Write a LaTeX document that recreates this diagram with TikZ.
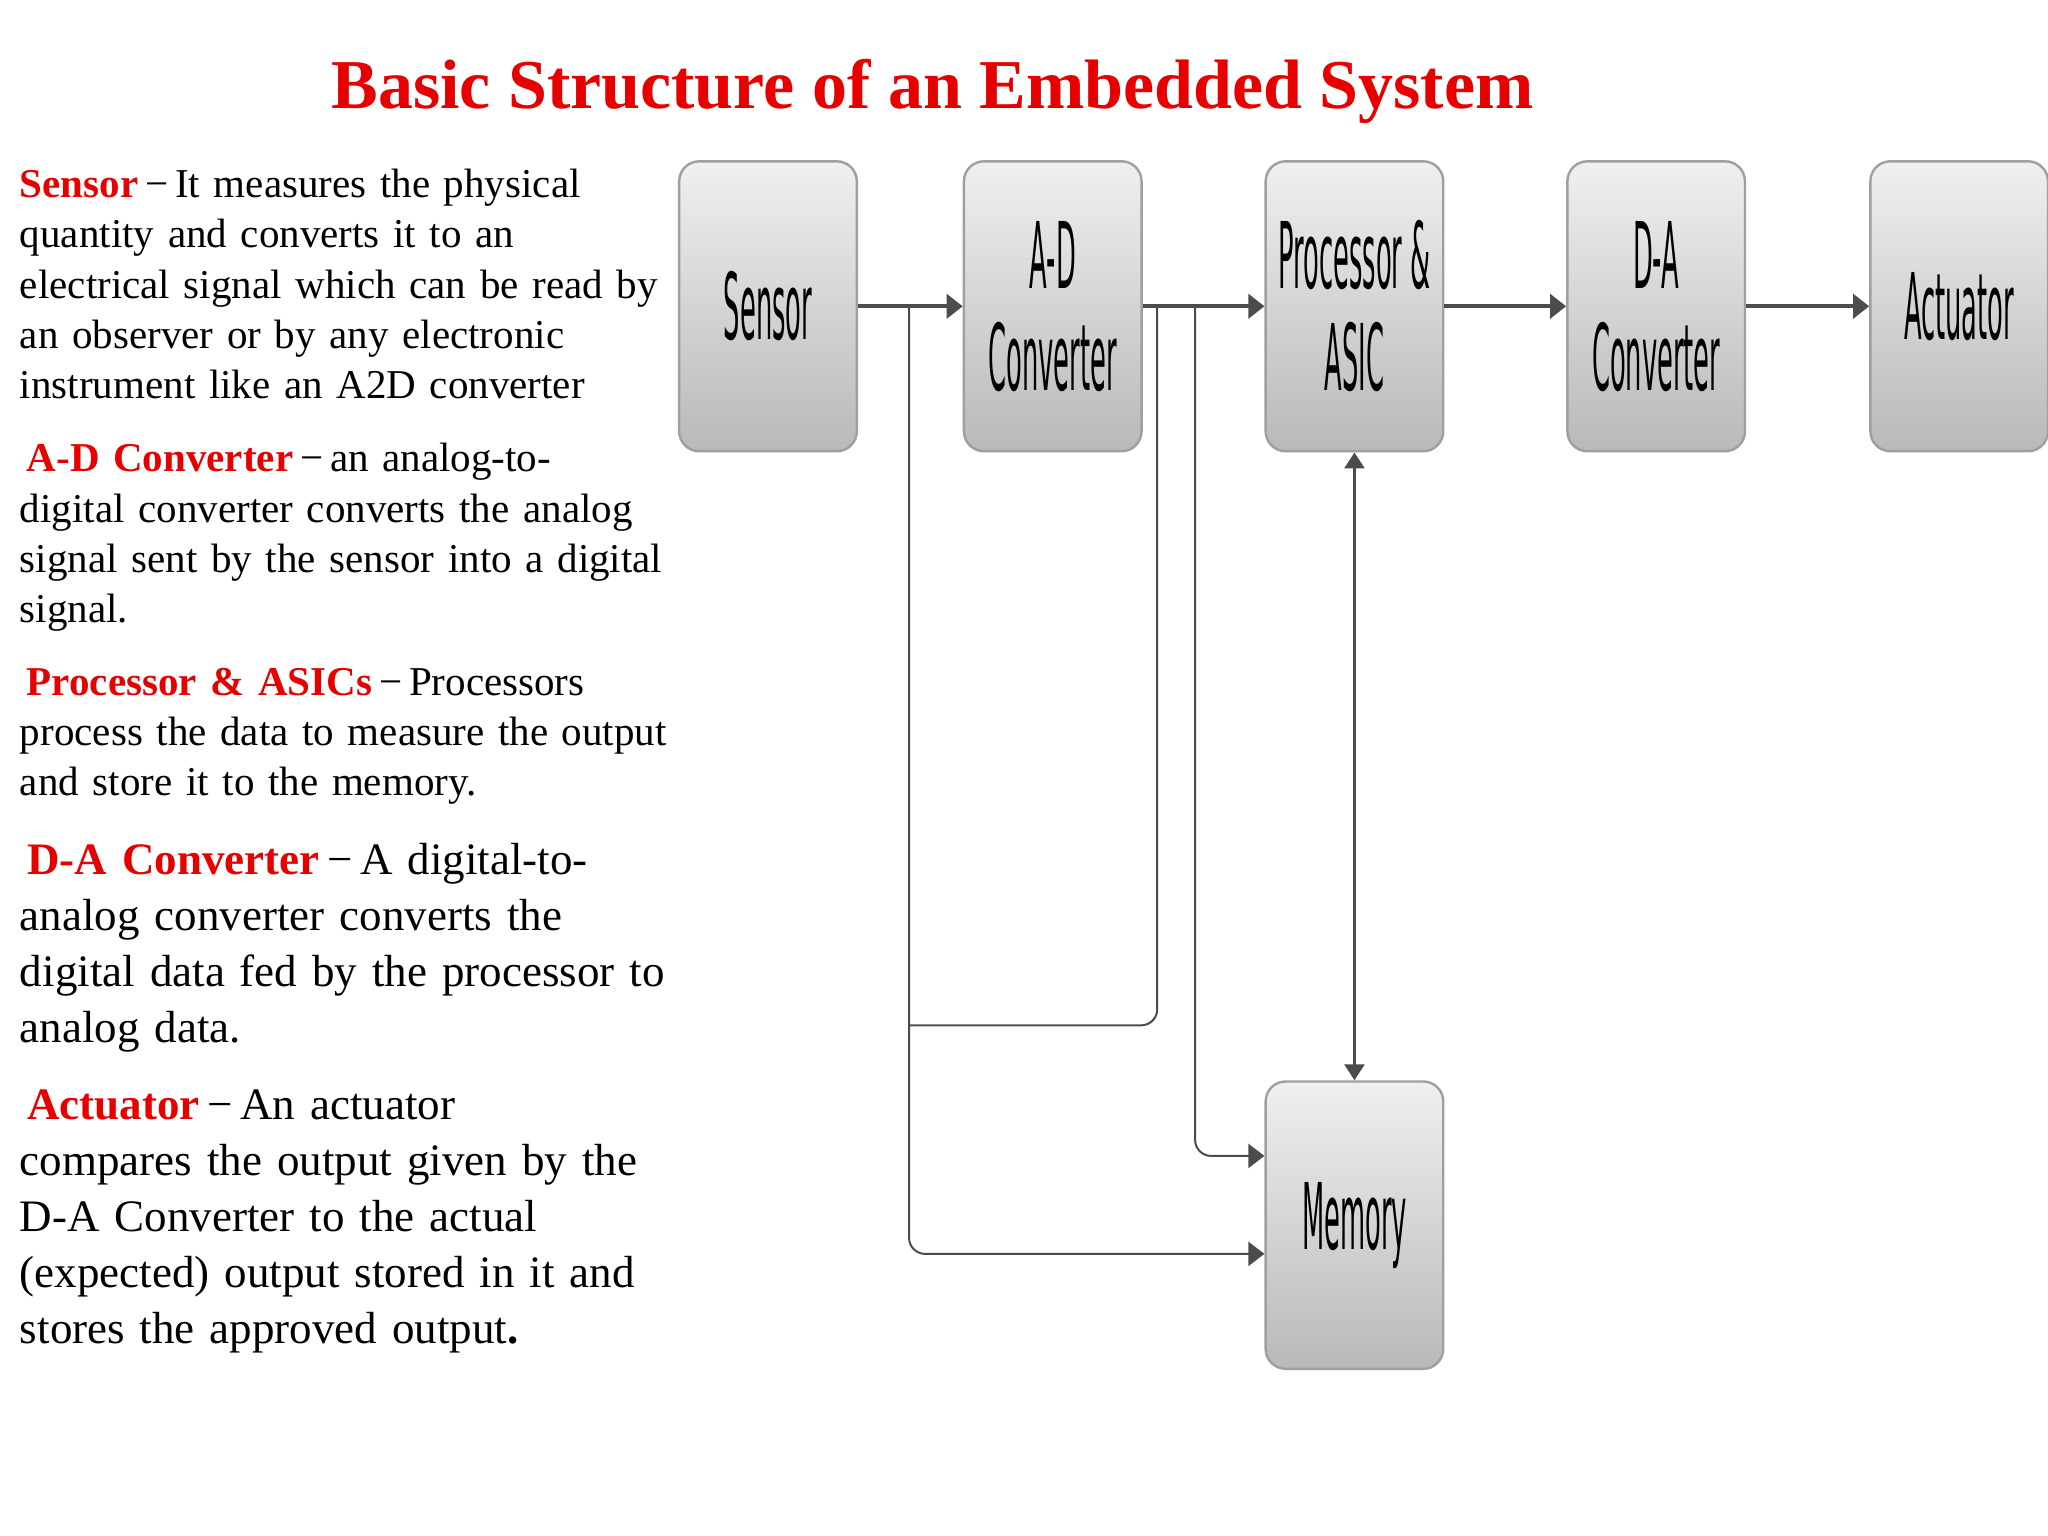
\documentclass[tikz,border=0pt]{standalone}
\usepackage{fontspec}
\setmainfont{Liberation Serif}
\newfontfamily\boxfont{DejaVu Sans}
\usetikzlibrary{arrows.meta}
\definecolor{tred}{RGB}{230,0,0}
\newcommand{\bl}[1]{\scalebox{0.28}[1]{#1}}
\newcommand{\dsh}{\,\textminus\,}
\begin{document}
\begin{tikzpicture}[x=0.653pt,y=-0.653pt,
 blk/.style={draw=gray!75,line width=1.2pt,rounded corners=10pt,top color=gray!12,bottom color=gray!55,
   minimum width=136*0.653pt,minimum height=222*0.653pt,inner sep=0pt,
   font=\boxfont\fontsize{46}{55}\selectfont,align=center},
 con/.style={draw=gray!60!black,line width=2.2pt},
 thin/.style={draw=gray!60!black,line width=1pt,rounded corners=8pt},
 tip/.style={-{Triangle[width=12pt,length=8pt]}},
 para/.style={anchor=north west,align=left,inner sep=0pt,text width=345pt}]
\useasboundingbox (0,0) rectangle (1568,1176);
\node[font=\bfseries\fontsize{35}{40}\selectfont,text=tred] (title) at (714,70) {Basic Structure of an Embedded System};
\node[blk] (s) at (588,234.5) {\bl{Sensor}};
\node[blk] (ad) at (806,234.5) {\bl{A-D}\\[-4pt]\bl{Converter}};
\node[blk] (p) at (1037,234.5) {\bl{Processor \&}\\[-4pt]\bl{ASIC}};
\node[blk] (da) at (1268,234.5) {\bl{D-A}\\[-4pt]\bl{Converter}};
\node[blk] (ac) at (1500,234.5) {\bl{Actuator}};
\node[blk,minimum height=220*0.653pt] (m) at (1037,938) {\bl{Memory}};
\draw[con,tip] (s.east) -- (ad.west);
\draw[con,tip] (ad.east) -- (p.west);
\draw[con,tip] (p.east) -- (da.west);
\draw[con,tip] (da.east) -- (ac.west);
\draw[con,line width=1.4pt,{Triangle[width=10pt,length=8pt]}-{Triangle[width=10pt,length=8pt]}] (p.south) -- (m.north);
\coordinate (a1) at (696,235);
\coordinate (a2) at (886,235);
\coordinate (a3) at (915,235);
\draw[thin,tip] (a1) |- (m.west |- 0,960);
\draw[thin] (696,785) -| (a2);
\draw[thin,tip] (a3) |- (m.west |- 0,885);
\begin{scope}[font=\fontsize{20.5}{25.2}\selectfont]
\node[para] (t1) at (15,129) {\raggedright\textcolor{tred}{\bfseries Sensor}\dsh It measures the physical\\quantity and converts it to an\\electrical signal which can be read by\\an observer or by any electronic\\instrument like an A2D converter};
\node[para] (t2) at (15,339) {\raggedright\,\textcolor{tred}{\bfseries A-D Converter}\dsh an analog-to-\\digital converter converts the analog\\signal sent by the sensor into a digital\\signal.};
\node[para] (t3) at (15,511) {\raggedright\,\textcolor{tred}{\bfseries Processor \& ASICs}\dsh Processors\\process the data to measure the output\\and store it to the memory.};
\end{scope}
\begin{scope}[font=\fontsize{22.5}{28}\selectfont]
\node[para] (t4) at (15,645) {\raggedright\,\textcolor{tred}{\bfseries D-A Converter}\dsh A digital-to-\\analog converter converts the\\digital data fed by the processor to\\analog data.};
\node[para] (t5) at (15,834) {\raggedright\,\textcolor{tred}{\bfseries Actuator}\dsh An actuator\\compares the output given by the\\D-A Converter to the actual\\(expected) output stored in it and\\stores the approved output\textbf{.}};
\end{scope}
\end{tikzpicture}
\end{document}
